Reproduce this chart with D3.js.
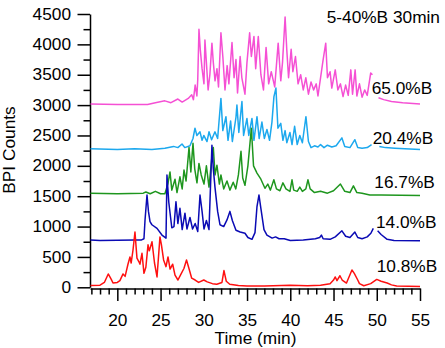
<!DOCTYPE html>
<html>
<head>
<meta charset="utf-8">
<script src="https://cdn.jsdelivr.net/npm/d3@7"></script>
<style>
  body { margin: 0; background: #fff; }
  svg text { font-family: "Liberation Sans", Arial, sans-serif; fill: #000; }
</style>
</head>
<body>
<div id="chart"></div>
<script>
// BPI chromatograms, [time (min), counts]; each run already carries its own offset
// null = break in the trace
const trace108 = [[16.9,30],[18.0,35],[18.5,80],[18.95,220],[19.3,130],[19.5,70],[20.0,80],[20.3,110],[20.66,220],[20.9,180],
  [21.23,380],[21.46,500],[21.6,400],[21.81,610],[22.04,910],[22.27,480],[22.5,420],[22.62,380],[22.85,560],[23.08,230],
  [23.3,330],[23.55,700],[23.7,600],[24.01,750],[24.3,400],[24.59,170],[24.93,830],[25.1,700],[25.35,450],[25.63,340],
  [25.86,500],[26.1,300],[26.4,380],[26.67,200],[27.01,120],[27.3,200],[27.7,310],[28.0,450],[28.3,300],[28.6,150],
  [29.0,120],[29.4,80],[30.0,120],[30.4,90],[31.0,60],[31.5,50],[32.1,80],[32.33,275],[32.6,100],[33.0,50],[34.0,30],
  [35.0,20],[37.0,20],[40.0,35],[42.0,25],[43.5,35],[44.6,60],[45.0,120],[45.2,170],[45.4,110],[45.74,190],[46.0,120],
  [46.5,70],[47.13,285],[47.4,230],[47.8,120],[48.0,60],[48.5,25],[49.3,60],[50.0,130],[50.5,100],[51.2,70],[51.7,40],
  [52.3,20],[55.0,15]];

const trace140 = [[16.9,780],[18,770],[20,775],[22,780],[22.8,780],[23.08,800],[23.2,1100],[23.43,1520],[23.6,1250],[23.78,1080],
  [24.0,1030],[24.59,970],[25.16,860],[25.63,810],[25.74,1850],[25.95,1400],[26.3,980],[26.55,1000],[26.78,1410],[27.0,1050],
  [27.24,1300],[27.5,950],[27.82,1220],[28.05,960],[28.4,1150],[28.7,960],[29.0,1050],[29.3,920],[29.56,1520],[29.8,1250],
  [30.02,960],[30.3,1100],[30.6,950],[30.94,2340],[31.1,1950],[31.29,1650],[31.6,1250],[31.87,1030],[32.3,1000],[32.68,1110],
  [33.02,1250],[33.3,1100],[33.72,940],[34.2,910],[34.76,890],[35.1,820],[35.57,790],[35.92,900],[36.15,1330],[36.38,1520],
  [36.6,1300],[36.96,950],[37.3,860],[37.9,810],[38.3,830],[38.7,800],[39.3,800],[40.0,770],[41.5,780],[42.9,800],[43.4,820],
  [43.6,860],[43.8,800],[44.6,790],[45.2,830],[45.97,930],[46.4,840],[46.9,820],[47.47,910],[47.8,820],[48.3,800],[48.9,830],
  [49.32,890],[49.6,970],[49.8,null],[50.1,930],[50.5,870],[51.2,790],[52.0,770],[55.0,768]];

const trace167 = [[16.9,1550],[20,1540],[23.0,1550],[23.3,1570],[23.8,1540],[24.4,1580],[25.0,1540],[25.5,1540],[25.86,1710],
  [26.09,1900],[26.3,1600],[26.67,1780],[26.9,1560],[27.24,1820],[27.5,1620],[27.71,1930],[27.95,1750],[28.29,2300],[28.5,1900],
  [28.75,2370],[28.95,1950],[29.21,1720],[29.44,2040],[29.7,1850],[30.02,1700],[30.3,2000],[30.6,1650],[30.94,2150],[31.1,2300],
  [31.3,1850],[31.52,2010],[31.8,1700],[31.98,1850],[32.3,1620],[32.68,1750],[33.02,1600],[33.4,1730],[33.7,1620],[34.0,1850],
  [34.3,2240],[34.5,1800],[34.76,1680],[35.1,2000],[35.5,2620],[35.75,2000],[36.15,1880],[36.6,1780],[37.07,1630],[37.4,1700],
  [37.7,1600],[38.1,1770],[38.4,1620],[38.8,1590],[39.15,1720],[39.5,1620],[39.96,1580],[40.2,1770],[40.4,1600],[40.8,1580],
  [41.1,1650],[41.4,1580],[41.8,1620],[42.04,1770],[42.3,1620],[42.8,1560],[43.5,1580],[44.3,1550],[45.0,1590],[45.8,1700],
  [46.3,1580],[46.9,1560],[47.3,1670],[47.7,1560],[48.3,1550],[49.2,1520],[50.5,1520],[55,1510]];

const trace204 = [[16.9,2280],[20,2270],[22,2280],[24,2270],[25.5,2290],[26.5,2320],[27.0,2300],[27.48,2360],[27.8,2300],[28.4,2330],
  [28.75,2450],[28.98,2620],[29.2,2500],[29.56,2560],[29.8,2420],[30.0,2500],[30.37,2400],[30.6,2560],[30.9,2430],[31.29,2560],
  [31.6,2450],[31.98,3110],[32.2,2580],[32.56,2810],[32.8,2420],[33.1,2740],[33.3,2400],[33.72,2800],[33.83,3000],[34.05,2550],
  [34.41,3060],[34.6,2500],[34.99,2780],[35.2,2500],[35.57,2780],[35.8,2420],[36.15,2810],[36.4,2450],[36.72,2720],[37.0,2450],
  [37.3,2600],[37.6,2420],[37.88,2720],[38.11,3140],[38.34,3280],[38.57,2620],[38.9,2700],[39.15,2420],[39.4,2580],[39.6,2380],
  [39.96,2550],[40.2,2350],[40.5,2650],[40.8,2350],[41.1,2500],[41.4,2380],[41.81,2810],[42.1,2400],[42.4,2300],[42.8,2330],
  [43.2,2310],[43.5,2350],[43.9,2300],[44.3,2340],[44.8,2310],[45.3,2330],[45.97,2460],[46.3,2320],[46.9,2300],[47.47,2430],
  [47.8,2300],[48.3,2290],[48.9,2300],[49.4,2350],[49.8,null],[50.3,2320],[51.0,2300],[52.1,2290],[55,2270]];

const trace650 = [[16.9,3020],[20,3010],[23.5,3010],[24.4,3040],[25.5,3070],[26.2,3040],[27.0,3100],[27.5,3050],[28.2,3110],
  [28.6,3170],[28.8,3090],[29.0,3330],[29.2,3150],[29.3,3420],[29.44,4250],[29.6,3900],[29.8,3600],[30.02,3350],[30.13,4070],
  [30.3,3700],[30.5,3250],[30.7,3500],[30.94,4020],[31.1,3700],[31.3,3400],[31.52,3600],[31.7,3300],[31.98,4190],[32.2,3800],
  [32.45,3250],[32.7,3650],[32.9,3350],[33.26,4030],[33.5,3450],[33.72,3750],[33.9,3200],[34.2,3800],[34.4,3450],[34.76,3180],
  [34.99,3700],[35.3,4190],[35.5,3800],[35.8,4130],[36.0,3600],[36.3,4130],[36.6,3500],[36.9,3250],[37.2,3950],[37.5,3350],
  [37.8,3550],[38.2,3300],[38.6,4020],[38.9,3400],[39.1,3700],[39.4,4450],[39.6,3900],[39.8,3450],[40.1,3920],[40.3,3550],
  [40.6,3800],[40.9,3350],[41.2,3500],[41.5,3250],[41.8,3450],[42.1,3180],[42.4,3380],[42.7,3250],[43.0,3350],[43.2,3150],
  [43.5,3450],[43.8,3750],[44.1,4020],[44.3,3450],[44.6,3550],[44.8,3280],[45.2,3580],[45.5,3250],[45.8,3350],[46.1,3140],
  [46.4,3330],[46.7,3160],[47.0,3580],[47.2,3180],[47.5,3580],[47.7,3150],[48.0,3350],[48.3,3130],[48.6,3250],[48.9,3160],
  [49.3,3530],[49.5,3500],[49.8,null],[50.2,3120],[50.8,3090],[51.7,3060],[53,3040],[55,3020]];

const traces = [trace650, trace204, trace167, trace140, trace108];
const traceColors = ['#f550d4', '#1ca8ee', '#1e961e', '#0a0ab4', '#ff1010'];
const traceLabels = ['65.0%B', '20.4%B', '16.7%B', '14.0%B', '10.8%B'];
const runLabel = '5-40%B 30min';

const yMajor = d3.range(0, 4501, 500);
const yMinor = d3.range(250, 4500, 500);
const xMajor = [20, 25, 30, 35, 40, 45, 50, 55];
const xMinor = d3.range(17, 55).filter(t => t % 5 !== 0);

const width = 445, height = 348;
const svg = d3.select('#chart').append('svg')
  .attr('width', width)
  .attr('height', height);

const x = d3.scaleLinear().domain([16.84, 55]).range([90, 420]);
const y = d3.scaleLinear().domain([0, 4500]).range([287.3, 14]);

const stretch = 'scale(1.08,1)';

// y axis
const yAxisG = svg.append('g').attr('transform', 'translate(90,0)');
yAxisG.call(d3.axisLeft(y).tickValues(yMajor).tickFormat(d3.format('d'))
  .tickSize(12.5).tickSizeOuter(0).tickPadding(6.5));
yAxisG.append('g').call(d3.axisLeft(y).tickValues(yMinor).tickSize(6.5).tickSizeOuter(0).tickFormat(''))
  .select('.domain').remove();
yAxisG.selectAll('text')
  .attr('x', -19 / 1.08)
  .attr('transform', stretch)
  .style('font-size', '16px')
  .style('font-family', '"Liberation Sans", Arial, sans-serif');

// x axis
const xAxisG = svg.append('g').attr('transform', 'translate(0,288.5)');
xAxisG.call(d3.axisBottom(x).tickValues(xMajor).tickSize(12.5).tickSizeOuter(0).tickPadding(13.6));
xAxisG.append('g').call(d3.axisBottom(x).tickValues(xMinor).tickSize(6).tickSizeOuter(0).tickFormat(''))
  .select('.domain').remove();
xAxisG.selectAll('text')
  .attr('transform', stretch)
  .style('font-size', '16px')
  .style('font-family', '"Liberation Sans", Arial, sans-serif');

svg.selectAll('.domain, .tick line')
  .attr('stroke', '#000')
  .attr('stroke-width', 1.5);

// traces
const line = d3.line()
  .defined(d => d[1] != null)
  .x(d => x(d[0]))
  .y(d => y(d[1]));

svg.append('g').selectAll('path')
  .data(traces)
  .join('path')
    .attr('d', line)
    .attr('fill', 'none')
    .attr('stroke', (d, i) => traceColors[i])
    .attr('stroke-width', 1.5)
    .attr('stroke-linejoin', 'round');

// text
function addText(px, py, str, anchor, rotate) {
  return svg.append('text')
    .attr('transform', `translate(${px},${py})${rotate ? ' rotate(-90)' : ''} ${stretch}`)
    .attr('text-anchor', anchor || 'start')
    .style('font-size', '16px')
    .text(str);
}

const labelPos = [[371.7, 94.3], [372.7, 144], [374.3, 188.3], [376, 228.3], [376.7, 271.7]];
traceLabels.forEach((s, i) => addText(labelPos[i][0], labelPos[i][1], s));
addText(326.7, 22.7, runLabel);

addText(255.5, 344.3, 'Time (min)', 'middle');
addText(14.8, 150, 'BPI Counts', 'middle', true);
</script>
</body>
</html>
